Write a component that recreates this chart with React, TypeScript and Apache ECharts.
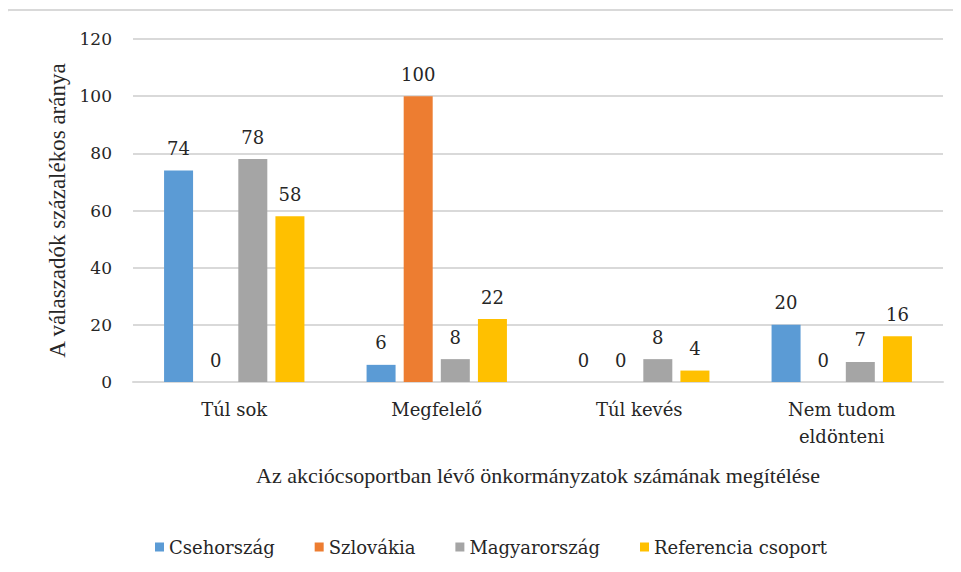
import React, { useEffect, useRef } from "react";
import * as echarts from "echarts";

const categories = ["Túl sok", "Megfelelő", "Túl kevés", "Nem tudom\neldönteni"];
const seriesNames = ["Csehország", "Szlovákia", "Magyarország", "Referencia csoport"];
const cseh = [74, 6, 0, 20];
const szlovakia = [0, 100, 0, 0];
const magyar = [78, 8, 8, 7];
const referencia = [58, 22, 4, 16];
const colors = ["#5B9BD5", "#ED7D31", "#A5A5A5", "#FFC000"];
const yTicks = { min: 0, max: 120, interval: 20 };

const NAME_FONT = "Liberation Serif";
const LABEL_FONT = "DejaVu Serif";
const TXT = "#262626";

function buildOption() {
  const values = [cseh, szlovakia, magyar, referencia];
  return {
    animation: false,
    backgroundColor: "#ffffff",
    graphic: [
      {
        type: "rect",
        shape: { x: 7, y: 10, width: 980, height: 600, r: 2 },
        style: { fill: "none", stroke: "#D9D9D9", lineWidth: 2 },
        silent: true,
      },
    ],
    legend: {
      data: seriesNames,
      top: 533,
      left: 150,
      icon: "rect",
      itemWidth: 9,
      itemHeight: 9,
      itemGap: 40,
      textStyle: { fontFamily: LABEL_FONT, fontSize: 18, color: TXT },
    },
    grid: { left: 133, right: 18, top: 39, bottom: 190 },
    xAxis: {
      type: "category",
      data: categories,
      name: "Az akciócsoportban lévő önkormányzatok számának megítélése",
      nameLocation: "middle",
      nameGap: 82,
      nameTextStyle: { fontFamily: NAME_FONT, fontSize: 22, color: TXT },
      axisLine: { lineStyle: { color: "#D9D9D9", width: 2 } },
      axisTick: { show: false },
      axisLabel: {
        fontFamily: LABEL_FONT,
        fontSize: 18,
        color: TXT,
        margin: 14,
        lineHeight: 27,
        interval: 0,
      },
    },
    yAxis: {
      type: "value",
      min: yTicks.min,
      max: yTicks.max,
      interval: yTicks.interval,
      name: "A válaszadók százalékos aránya",
      nameLocation: "middle",
      nameRotate: 90,
      nameGap: 64,
      nameTextStyle: { fontFamily: NAME_FONT, fontSize: 23, color: TXT },
      axisLine: { show: false },
      axisTick: { show: false },
      axisLabel: { fontFamily: LABEL_FONT, fontSize: 17, color: TXT, margin: 21 },
      splitLine: { lineStyle: { color: "#D9D9D9", width: 2 } },
    },
    series: seriesNames.map((name, i) => ({
      name,
      type: "bar",
      data: values[i],
      barWidth: 29,
      barGap: "28%",
      itemStyle: { color: colors[i] },
      label: {
        show: true,
        position: "top",
        distance: 13,
        fontFamily: LABEL_FONT,
        fontSize: 18,
        color: TXT,
      },
    })),
  };
}

export default function App() {
  const ref = useRef<HTMLDivElement>(null);
  useEffect(() => {
    if (!ref.current) return;
    const chart = echarts.init(ref.current, undefined, { renderer: "svg" });
    chart.setOption(buildOption());
    return () => {
      chart.dispose();
    };
  }, []);
  return (
    <div
      ref={ref}
      style={{ width: 961, height: 572, marginLeft: -8, marginTop: -8 }}
    />
  );
}
